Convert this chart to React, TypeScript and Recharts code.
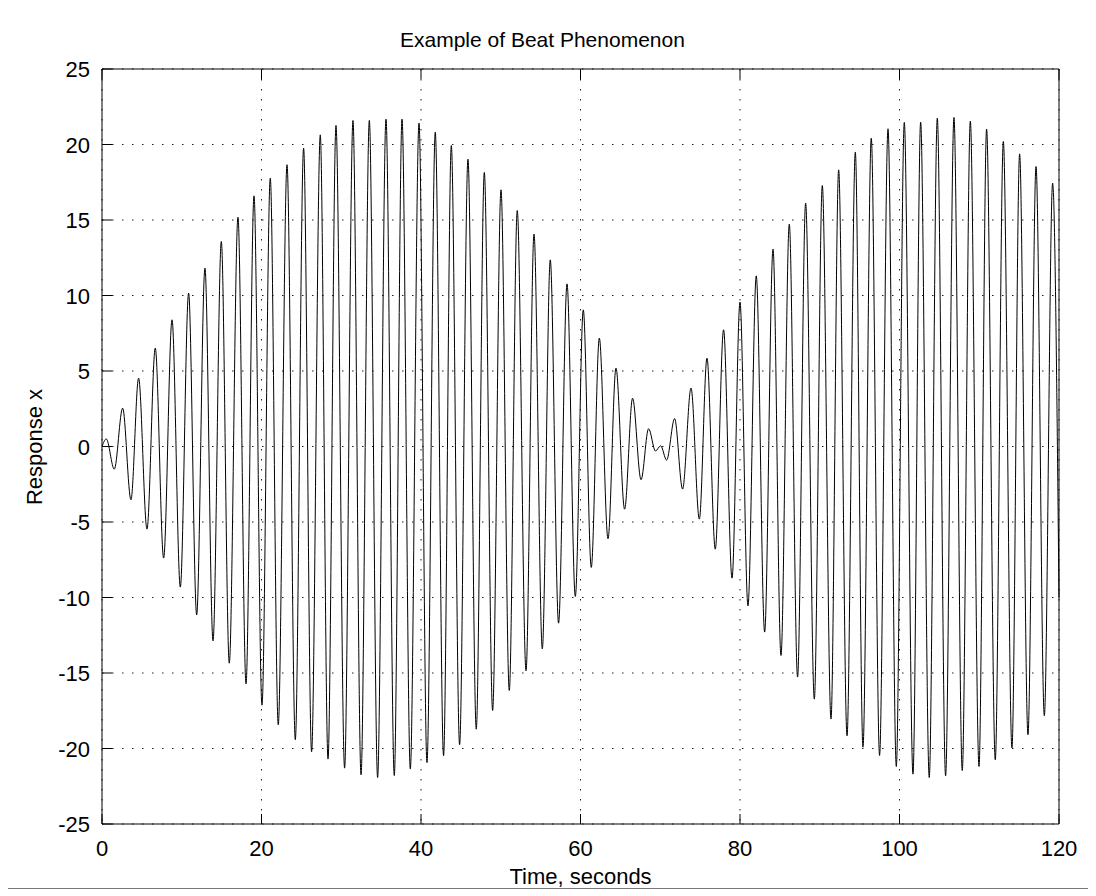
import { LineChart, Line, XAxis, YAxis, CartesianGrid } from "recharts";

// extrema of the response (seconds, value)
const time = [
  0, 0.54, 1.54, 2.59, 3.63, 4.59, 5.64, 6.68, 7.73, 8.78, 9.82, 10.86, 11.87, 12.91, 13.92, 14.96,
  15.96, 17.05, 18.06, 19.06, 20.06, 21.1, 22.1, 23.2, 24.24, 25.28, 26.28, 27.37, 28.34, 29.34,
  30.42, 31.47, 32.48, 33.52, 34.56, 35.61, 36.65, 37.62, 38.66, 39.75, 40.75, 41.79, 42.83, 43.8,
  44.84, 45.89, 46.93, 47.94, 48.98, 50.03, 51.07, 52.07, 53.17, 54.17, 55.21, 56.21, 57.25, 58.31,
  59.35, 60.35, 61.35, 62.36, 63.45, 64.45, 65.53, 66.53, 67.59, 68.54, 69.4, 70.05, 70.8, 71.8,
  72.8, 73.86, 74.9, 75.86, 76.9, 77.94, 79.0, 80.0, 81.0, 82.04, 83.09, 84.14, 85.14, 86.18, 87.22,
  88.23, 89.32, 90.32, 91.41, 92.37, 93.42, 94.46, 95.42, 96.46, 97.5, 98.56, 99.6, 100.6, 101.69,
  102.65, 103.73, 104.74, 105.78, 106.83, 107.87, 108.88, 109.97, 110.92, 112.01, 113.02, 114.1,
  115.06, 116.11, 117.12, 118.16, 119.2, 120,
];

const response = [
  0, 0.5, -1.5, 2.54, -3.53, 4.53, -5.47, 6.52, -7.39, 8.39, -9.31, 10.16, -11.15, 11.81, -12.87, 13.58,
  -14.35, 15.19, -15.72, 16.6, -17.13, 17.77, -18.43, 18.66, -19.42, 19.76, -20.22, 20.64, -20.7, 21.26,
  -21.3, 21.59, -21.74, 21.59, -21.92, 21.68, -21.79, 21.68, -21.36, 21.42, -20.93, 20.82, -20.48, 19.93,
  -19.75, 19.03, -18.72, 18.15, -17.48, 17.0, -16.16, 15.63, -14.85, 14.07, -13.4, 12.36, -11.7, 10.77,
  -9.93, 9.05, -8.01, 7.18, -6.11, 5.19, -4.15, 3.2, -2.2, 1.18, -0.3, 0.05, -0.9, 1.85,
  -2.82, 3.87, -4.81, 5.85, -6.8, 7.73, -8.72, 9.56, -10.55, 11.3, -12.29, 13.07, -13.84, 14.73, -15.27,
  16.12, -16.73, 17.28, -18.05, 18.32, -19.16, 19.5, -19.91, 20.42, -20.46, 21.04, -21.19, 21.46, -21.7,
  21.48, -21.92, 21.75, -21.81, 21.79, -21.46, 21.55, -21.19, 21.02, -20.75, 20.2, -19.97,
  19.38, -19.09, 18.54, -17.83, 17.44, -10,
];

const xTicks = [0, 20, 40, 60, 80, 100, 120];
const yTicks = [-25, -20, -15, -10, -5, 0, 5, 10, 15, 20, 25];

const data = time.map((t, i) => ({ t, x: response[i] }));

const font = "'Liberation Sans', Arial, sans-serif";
const TICK = 10;

const BottomTick = (p: any) => (
  <g>
    <line x1={p.x} y1={p.y} x2={p.x} y2={p.y - TICK} stroke="#000" />
    <text x={p.x} y={p.y + 32} textAnchor="middle" fill="#000" fontSize={22} fontFamily={font}>
      {p.payload.value}
    </text>
  </g>
);

const TopTick = (p: any) => (
  <line x1={p.x} y1={p.y} x2={p.x} y2={p.y + TICK} stroke="#000" />
);

const LeftTick = (p: any) => (
  <g>
    <line x1={p.x} y1={p.y} x2={p.x + TICK} y2={p.y} stroke="#000" />
    <text x={p.x - 12} y={p.y + 8} textAnchor="end" fill="#000" fontSize={22} fontFamily={font}>
      {p.payload.value}
    </text>
  </g>
);

const RightTick = (p: any) => (
  <line x1={p.x} y1={p.y} x2={p.x - TICK} y2={p.y} stroke="#000" />
);

export default function App() {
  return (
    <div
      style={{
        width: 1080,
        height: 880,
        marginLeft: -1,
        marginTop: -1,
        border: "1px solid #777",
        background: "#fff",
      }}
    >
      <div style={{ position: "relative", width: 1080, height: 880, fontFamily: font }}>
        <div
          style={{
            position: "absolute",
            left: 392,
            top: 20,
            fontSize: 21,
            lineHeight: "24px",
            whiteSpace: "nowrap",
          }}
        >
          Example of Beat Phenomenon
        </div>

        <LineChart
          width={1080}
          height={880}
          data={data}
          margin={{ top: 60, right: 28, left: 24, bottom: 24 }}
        >
          <CartesianGrid stroke="#222" strokeDasharray="1.5 8.5" />
          <XAxis
            dataKey="t"
            type="number"
            domain={[0, 120]}
            ticks={xTicks}
            height={40}
            tickSize={0}
            tickMargin={0}
            tick={BottomTick}
            axisLine={{ stroke: "#000" }}
            tickLine={false}
            interval={0}
          />
          <XAxis
            xAxisId="top"
            orientation="top"
            dataKey="t"
            type="number"
            domain={[0, 120]}
            ticks={xTicks}
            height={1}
            tickSize={0}
            tickMargin={0}
            tick={TopTick}
            axisLine={{ stroke: "#000" }}
            tickLine={false}
            interval={0}
          />
          <YAxis
            type="number"
            domain={[-25, 25]}
            ticks={yTicks}
            width={70}
            tickSize={0}
            tickMargin={0}
            tick={LeftTick}
            axisLine={{ stroke: "#000" }}
            tickLine={false}
            interval={0}
          />
          <YAxis
            yAxisId="right"
            orientation="right"
            type="number"
            domain={[-25, 25]}
            ticks={yTicks}
            width={1}
            tickSize={0}
            tickMargin={0}
            tick={RightTick}
            axisLine={{ stroke: "#000" }}
            tickLine={false}
            interval={0}
          />
          <Line
            type="monotone"
            dataKey="x"
            stroke="#000"
            strokeWidth={1}
            dot={false}
            isAnimationActive={false}
          />
        </LineChart>

        <div
          style={{
            position: "absolute",
            left: 94,
            width: 957,
            top: 857,
            textAlign: "center",
            fontSize: 22,
            lineHeight: "24px",
          }}
        >
          Time, seconds
        </div>
        <div
          style={{
            position: "absolute",
            left: 27 - 100,
            top: 439 - 12,
            width: 200,
            height: 24,
            textAlign: "center",
            fontSize: 22,
            lineHeight: "24px",
            transform: "rotate(-90deg)",
          }}
        >
          Response x
        </div>
      </div>
    </div>
  );
}
